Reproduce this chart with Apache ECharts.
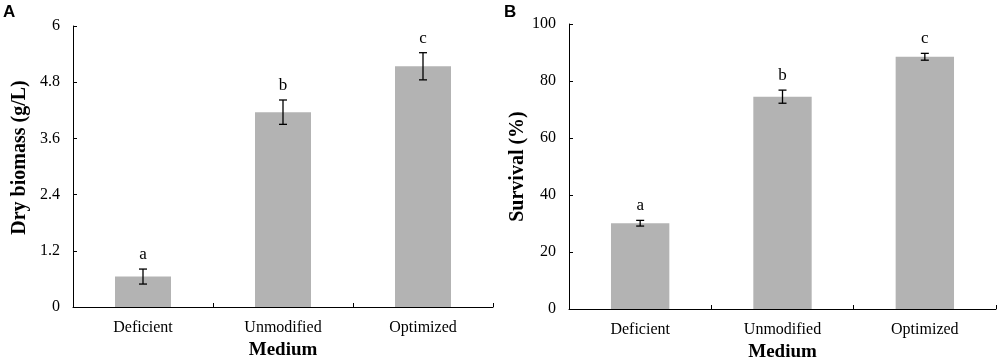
<!DOCTYPE html>
<html>
<head>
<meta charset="utf-8">
<script src="https://cdn.jsdelivr.net/npm/echarts@6/dist/echarts.min.js"></script>
<style>
  html, body { margin: 0; padding: 0; background: #fff; }
  #chart { width: 1000px; height: 359px; }
</style>
</head>
<body>
<div id="chart"></div>
<script>
const categories = ['Deficient', 'Unmodified', 'Optimized']
const letters = ['a', 'b', 'c']

// panel A: dry biomass (g/L)
const biomassMean = [0.65, 4.16, 5.14]
const biomassErr = [0.16, 0.26, 0.29]

// panel B: survival (%)
const survivalMean = [30.1, 74.5, 88.5]
const survivalErr = [1.0, 2.3, 1.2]

const serif = '"Liberation Serif", "Times New Roman", serif'
const barColor = '#b3b3b3'

function errData(mean, err) {
  return mean.map((m, i) => [i, m - err[i], m + err[i], letters[i]])
}

function renderErr(params, api) {
  const x = api.value(0)
  const lo = api.coord([x, api.value(1)])
  const hi = api.coord([x, api.value(2)])
  const cap = 4
  const style = { stroke: '#000', lineWidth: 1.3 }
  return {
    type: 'group',
    children: [
      { type: 'line', shape: { x1: lo[0], y1: lo[1], x2: hi[0], y2: hi[1] }, style },
      { type: 'line', shape: { x1: lo[0] - cap, y1: lo[1], x2: lo[0] + cap, y2: lo[1] }, style },
      { type: 'line', shape: { x1: hi[0] - cap, y1: hi[1], x2: hi[0] + cap, y2: hi[1] }, style },
      {
        type: 'text',
        style: {
          text: letters[params.dataIndex],
          x: hi[0], y: hi[1] - 6,
          align: 'center', verticalAlign: 'bottom',
          font: '17px ' + serif, fill: '#000'
        }
      }
    ]
  }
}

const axisLine = { show: true, lineStyle: { color: '#000', width: 1 } }

function xAxisCfg(gridIndex) {
  return {
    type: 'category',
    gridIndex,
    data: categories,
    name: 'Medium',
    nameLocation: 'middle',
    nameGap: 33,
    nameTextStyle: { fontFamily: serif, fontWeight: 'bold', fontSize: 19, color: '#000' },
    axisLine,
    axisTick: { show: true, inside: true, length: 4, lineStyle: { color: '#000' } },
    axisLabel: { fontFamily: serif, fontSize: 16, color: '#000', margin: 13 },
    splitLine: { show: false }
  }
}

function yAxisCfg(gridIndex, name, max, interval, gap, pad) {
  return {
    type: 'value',
    gridIndex,
    min: 0,
    max,
    interval,
    name,
    nameLocation: 'middle',
    nameGap: gap,
    nameTextStyle: {
      fontFamily: serif, fontWeight: 'bold', fontSize: 20, color: '#000',
      padding: [0, 0, 0, pad]
    },
    axisLine,
    axisTick: { show: true, inside: true, length: 4, lineStyle: { color: '#000' } },
    axisLabel: {
      fontFamily: serif, fontSize: 16, color: '#000', margin: 13,
      formatter: v => String(+v.toFixed(1))
    },
    splitLine: { show: false }
  }
}

const chart = echarts.init(document.getElementById('chart'))

const option = {
  animation: false,
  backgroundColor: '#fff',
  graphic: [
    { type: 'text', left: 3, top: 4, style: { text: 'A', font: 'bold 17px "Liberation Sans", Arial, sans-serif', fill: '#000' } },
    { type: 'text', left: 504, top: 4, style: { text: 'B', font: 'bold 17px "Liberation Sans", Arial, sans-serif', fill: '#000' } }
  ],
  grid: [
    { left: 73, right: 507, top: 26, bottom: 52, outerBoundsMode: 'none', containLabel: false },
    { left: 569, right: 4, top: 24, bottom: 50, outerBoundsMode: 'none', containLabel: false }
  ],
  xAxis: [xAxisCfg(0), xAxisCfg(1)],
  yAxis: [
    yAxisCfg(0, 'Dry biomass (g/L)', 6, 1.2, 43, 18),
    yAxisCfg(1, 'Survival (%)', 100, 20, 38, 0)
  ],
  series: [
    {
      type: 'bar', xAxisIndex: 0, yAxisIndex: 0,
      data: biomassMean, barWidth: '40%',
      itemStyle: { color: barColor }
    },
    {
      type: 'custom', xAxisIndex: 0, yAxisIndex: 0,
      data: errData(biomassMean, biomassErr),
      encode: { x: 0, y: [1, 2] },
      renderItem: renderErr, z: 3
    },
    {
      type: 'bar', xAxisIndex: 1, yAxisIndex: 1,
      data: survivalMean, barWidth: '41%',
      itemStyle: { color: barColor }
    },
    {
      type: 'custom', xAxisIndex: 1, yAxisIndex: 1,
      data: errData(survivalMean, survivalErr),
      encode: { x: 0, y: [1, 2] },
      renderItem: renderErr, z: 3
    }
  ]
}

chart.setOption(option)
</script>
</body>
</html>
